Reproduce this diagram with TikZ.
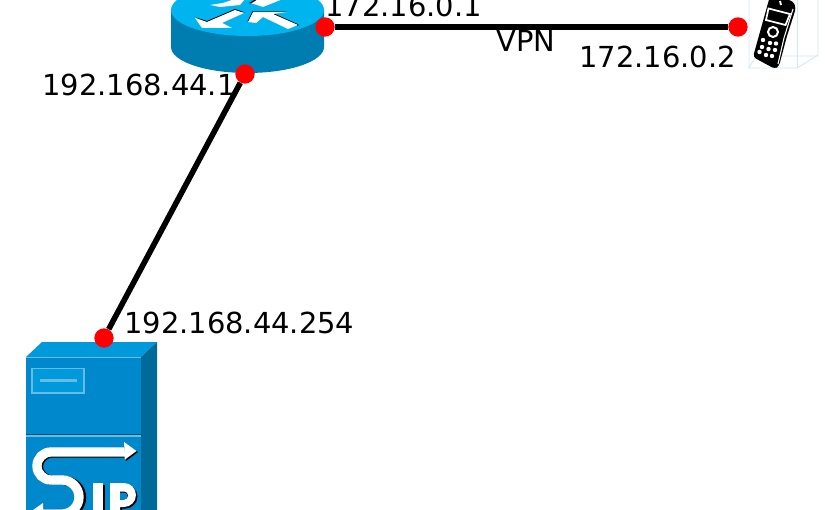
\documentclass[tikz,border=0pt]{standalone}
\usepackage{fontspec}
\setmainfont{DejaVu Sans}
\definecolor{rtop}{HTML}{00B4F0}
\definecolor{rside}{HTML}{007DB0}
\definecolor{stop}{HTML}{0099DC}
\definecolor{sfront}{HTML}{0088CC}
\definecolor{sside}{HTML}{006A99}
\definecolor{sline}{HTML}{66BDE4}
\definecolor{wire}{HTML}{CFE8F5}
\tikzset{
  reddot/.style={circle,fill=red,minimum size=14.5pt,inner sep=0pt},
  link/.style={draw=black,line width=4.2pt},
  lbl/.style={inner sep=0pt,anchor=base west,font=\fontsize{21.7pt}{24pt}\selectfont},
  wirel/.style={draw=wire,line width=0.6pt},
  sipw/.style={draw=white,line width=7pt},
  sipk/.style={draw=black,line width=7pt}
}
\begin{document}
\begin{tikzpicture}[x=0.75pt,y=-0.75pt]
\useasboundingbox (0,0) rectangle (825,510);
\clip (0,0) rectangle (825,510);
\fill[white] (0,0) rectangle (825,510);
% router
\fill[rside] (171,10) -- (171,47) arc[start angle=180,end angle=0,x radius=76.5,y radius=26] -- (324,10) -- cycle;
\fill[rtop] (247.5,10) ellipse[x radius=76.5,y radius=26];
\fill[black] (196,17.5) -- (207,21) -- (235,9) -- (245,12.5) -- (232,12) -- (208,23) -- cycle;
\fill[white] (195,18) -- (207,22) -- (235,10) -- (244,13) -- (222,23) -- (232,28) -- (202,28) -- cycle;
\fill[black] (247.5,21.5) -- (252.5,11.3) -- (287,11.5) -- (273,13) -- (298.5,24.5) -- (298,26) -- (263,16) -- (253,18) -- (249,22) -- cycle;
\fill[white] (248,22) -- (253,12) -- (287,12) -- (273,14) -- (298,25) -- (288,29) -- (263,17) -- (256,23) -- cycle;
\fill[white] (210,5) -- (223,3) -- (235,-1) -- (245,-1) -- (240,5) -- (220,7) -- cycle;
\fill[white] (250,3) -- (257,-1) -- (283,-1) -- (263,7) -- (257,5) -- cycle;
\fill[black] (249,3) -- (256,-1) -- (258,-1) -- (251,3.5) -- cycle;
% phone
\draw[wirel] (749,0) -- (749,68) -- (797,68) -- (818,55) -- (818,0);
\draw[wirel] (797,0) -- (797,68);
\draw[wirel] (749,68) -- (756,56) -- (818,56);
\fill[black,rounded corners=2.5pt] (753,57) -- (770,-4) -- (793,1) -- (796,8) -- (787,36) -- (779,66) -- (775,69) -- cycle;
\draw[white,line width=0.8pt] (793,9) -- (784,38) -- (778,64);
\draw[white,line width=1.3pt,fill=black] (768.5,8.5) -- (790,14) -- (785.5,25) -- (766,20) -- cycle;
\draw[white,line width=1.5pt] (773,32) circle[radius=5];
\foreach \p in {(763,40),(770,43),(776,43.5),(762,47),(768.5,49),(775,50),(759.5,52),(766,55),(772,56)}
  \fill[white] \p circle[radius=2.2];
\draw[white,line width=1.4pt] (780,1) -- (781,5);
% server
\fill[stop] (26,357) -- (42,342) -- (157,342) -- (141,357) -- cycle;
\fill[sside] (141,357) -- (157,342) -- (157,510) -- (141,510) -- cycle;
\fill[sfront] (26,357) rectangle (141,510);
\draw[sline,line width=0.5pt] (26,357) -- (141,357);
\draw[sline,line width=0.8pt,fill=stop] (32,368.5) rectangle (84,393);
\draw[sline,line width=1.7pt] (40,380.5) -- (77,380.5);
\fill[sline] (26,434.5) rectangle (141,436.5);
\fill[black!40!sfront] (26,433.5) rectangle (141,434.5);
% SIP
\draw[sipk] (124,453) -- (52,453) arc[start angle=-90,end angle=-180,radius=13.5] arc[start angle=-180,end angle=-270,radius=13.5];
\draw[sipk] (65,481) arc[start angle=-90,end angle=90,radius=16.5] -- (44,514);
\draw[sipw] (125,452) -- (51,452) arc[start angle=-90,end angle=-180,radius=14] arc[start angle=-180,end angle=-270,radius=14] -- (62,480) arc[start angle=-90,end angle=90,radius=17] -- (40,514);
\fill[black] (124,443) -- (138,452) -- (126,461) -- cycle;
\fill[white] (124,442) -- (136.5,451) -- (125,459.5) -- cycle;
\fill[white] (33,510) -- (43,503) -- (43,520) -- cycle;
\fill[black] (94.5,484.5) rectangle (104.5,515);
\fill[white] (93,483) rectangle (103,515);
\fill[black] (122,484.5) -- (125.5,484.5) arc[start angle=-90,end angle=90,radius=12] -- (122,508.5) -- (122,515) -- (112,515) -- (112,484.5) -- cycle;
\fill[white] (110,483) -- (124,483) arc[start angle=-90,end angle=90,radius=12] -- (120,507) -- (120,515) -- (110,515) -- cycle;
\fill[black] (120,491.5) -- (124,491.5) arc[start angle=-90,end angle=90,radius=4] -- (120,499.5) -- cycle;
\fill[sfront] (120,492.5) -- (124,492.5) arc[start angle=-90,end angle=90,radius=3.5] -- (120,499.5) -- cycle;
% dots
\node[reddot] (rvpn) at (325,27) {};
\node[reddot] (rlan) at (245,74) {};
\node[reddot] (sip) at (104,338) {};
\node[reddot] (phone) at (738,27) {};
\draw[link] (rvpn) -- (phone);
\draw[link] (rlan) -- (sip);
% labels
\node[lbl] (l1) at (325,16.5) {172.16.0.1};
\node[lbl] (l2) at (496,52) {VPN};
\node[lbl] (l3) at (579,68) {172.16.0.2};
\node[lbl] (l4) at (42,95) {192.168.44.1};
\node[lbl] (l5) at (124,333) {192.168.44.254};
\end{tikzpicture}
\end{document}
